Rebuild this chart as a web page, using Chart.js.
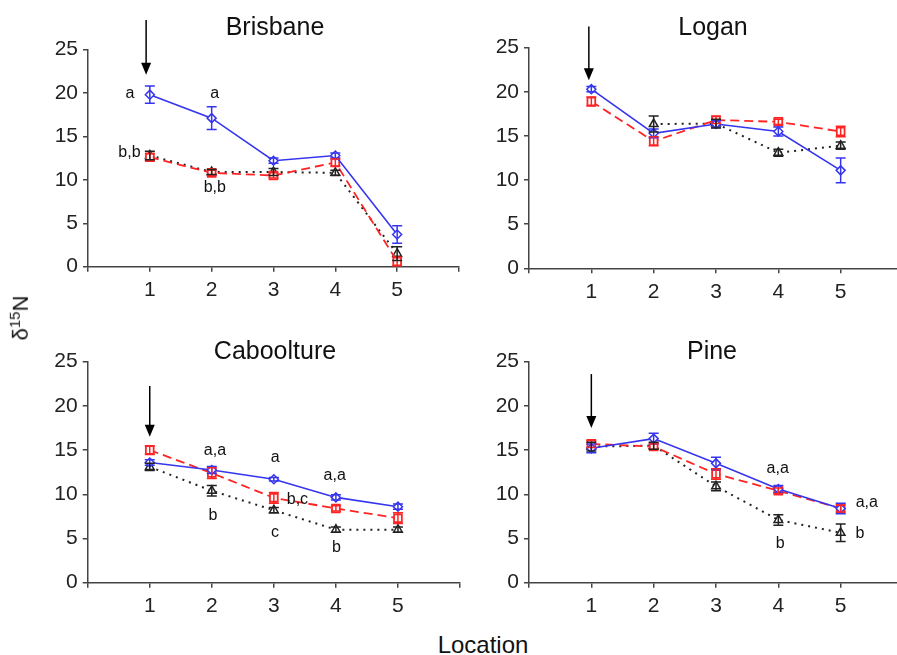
<!DOCTYPE html>
<html lang="en">
<head>
<meta charset="UTF-8">
<title>δ15N by location</title>
<script src="https://cdn.jsdelivr.net/npm/chart.js@4.4.1/dist/chart.umd.min.js"></script>
<style>
    body {
        margin: 0;
        width: 897px;
        height: 655px;
        overflow: hidden;
        position: relative;
        background: #fff;
        font-family: 'Liberation Sans', Arial, sans-serif;
        color: #111;
    }
    .panel {
        position: absolute;
        width: 470px;
        height: 330px;
    }
    .title {
        position: absolute;
        font-size: 25px;
        transform: translate(-50%, -50%);
        white-space: nowrap;
    }
    .ylabel {
        position: absolute;
        left: 20px;
        top: 318px;
        font-size: 22px;
        transform: translate(-50%, -50%) rotate(-90deg);
        white-space: nowrap;
    }
    .ylabel sup { font-size: 15px; }
    .xlabel {
        position: absolute;
        left: 483px;
        top: 645px;
        font-size: 24px;
        transform: translate(-50%, -50%);
        white-space: nowrap;
    }
</style>
</head>
<body>
<div class="panel" style="left:0;top:0"><canvas id="c0" width="470" height="330"></canvas></div>
<div class="panel" style="left:450px;top:0"><canvas id="c1" width="470" height="330"></canvas></div>
<div class="panel" style="left:0;top:300px"><canvas id="c2" width="470" height="330"></canvas></div>
<div class="panel" style="left:450px;top:300px"><canvas id="c3" width="470" height="330"></canvas></div>

<div class="title" style="left:275px;top:26px">Brisbane</div>
<div class="title" style="left:713px;top:26px">Logan</div>
<div class="title" style="left:275px;top:350px">Caboolture</div>
<div class="title" style="left:712px;top:350px">Pine</div>
<div class="ylabel">δ<sup>15</sup>N</div>
<div class="xlabel">Location</div>

<script>
// categories and ticks
const locations = ['1', '2', '3', '4', '5'];
const yTicks = [0, 5, 10, 15, 20, 25];

// Brisbane
const brisbaneBlue = [19.8, 17.1, 12.2, 12.8, 3.7];
const brisbaneBlueErr = [1.0, 1.3, 0.3, 0.3, 1.0];
const brisbaneRed = [12.6, 10.8, 10.5, 12.0, 0.6];
const brisbaneRedErr = [0.4, 0.3, 0.3, 0.4, 0.5];
const brisbaneBlack = [12.8, 10.9, 10.9, 10.8, 1.5];
const brisbaneBlackErr = [0.5, 0.3, 0.4, 0.3, 0.8];

// Logan
const loganBlue = [20.3, 15.3, 16.35, 15.5, 11.1];
const loganBlueErr = [0.3, 0.5, 0.4, 0.5, 1.4];
const loganRed = [18.9, 14.4, 16.8, 16.6, 15.5];
const loganRedErr = [0.5, 0.5, 0.4, 0.3, 0.6];
const loganBlack = [null, 16.35, 16.4, 13.1, 13.9];
const loganBlackErr = [0, 0.9, 0.5, 0.4, 0.4];

// Caboolture
const caboolBlue = [13.6, 12.75, 11.7, 9.65, 8.6];
const caboolBlueErr = [0.3, 0.4, 0.2, 0.3, 0.3];
const caboolRed = [15.0, 12.4, 9.6, 8.4, 7.3];
const caboolRedErr = [0.5, 0.6, 0.6, 0.3, 0.6];
const caboolBlack = [13.1, 10.4, 8.2, 6.0, 6.0];
const caboolBlackErr = [0.4, 0.6, 0.3, 0.3, 0.3];

// Pine
const pineBlue = [15.2, 16.3, 13.5, 10.6, 8.4];
const pineBlueErr = [0.5, 0.6, 0.7, 0.4, 0.6];
const pineRed = [15.7, 15.4, 12.3, 10.4, 8.4];
const pineRedErr = [0.4, 0.3, 0.6, 0.3, 0.4];
const pineBlack = [15.4, 15.5, 10.9, 7.1, 5.65];
const pineBlackErr = [0.5, 0.4, 0.5, 0.6, 1.0];

// letters over the points (data coordinates)
const brisbaneNotes = [
    { x: 0.68, y: 19.9, t: 'a' }, { x: 2.05, y: 19.9, t: 'a' },
    { x: 0.67, y: 13.1, t: 'b,b' }, { x: 2.05, y: 9.05, t: 'b,b' }
];
const loganNotes = [];
const caboolNotes = [
    { x: 2.05, y: 15.0, t: 'a,a' }, { x: 3.02, y: 14.1, t: 'a' },
    { x: 3.98, y: 12.1, t: 'a,a' }, { x: 2.02, y: 7.55, t: 'b' },
    { x: 3.38, y: 9.35, t: 'b,c' }, { x: 3.02, y: 5.7, t: 'c' },
    { x: 4.01, y: 4.0, t: 'b' }
];
const pineNotes = [
    { x: 3.99, y: 12.9, t: 'a,a' }, { x: 5.42, y: 9.05, t: 'a,a' },
    { x: 4.03, y: 4.4, t: 'b' }, { x: 5.31, y: 5.5, t: 'b' }
];

// arrows at location 1: [x, top, bottom]
const arrows = [[0.94, 28.4, 22.1], [0.96, 27.4, 21.3], [1.0, 22.25, 16.5], [1.0, 23.6, 17.5]];

// page layout: canvas origin and plot area (left, top, right, bottom)
const origins = [[0, 0], [450, 0], [0, 300], [450, 300]];
const plotBoxes = [[88, 49.5, 459, 266.7], [529, 47.7, 903, 268.3], [87.7, 361.7, 460, 582.7], [529, 361.7, 903, 582.7]];

const BLUE = '#3535f0', RED = '#ff2424', BLACK = '#222';
const FONT = "'Liberation Sans', Arial, sans-serif";
const Y_W = 60, X_H = 40, CW = 470, CH = 330;

const extras = {
    id: 'extras',
    afterDatasetsDraw(chart, args, opts) {
        const { ctx } = chart;
        const x = chart.scales.x, y = chart.scales.y;
        ctx.save();
        ctx.setLineDash([]);
        ctx.lineWidth = 1.5;
        // error bars
        opts.errors.forEach((errs, di) => {
            const ds = chart.data.datasets[di];
            ctx.strokeStyle = ds.borderColor;
            ds.data.forEach((p, j) => {
                if (p.y == null || !errs[j]) return;
                const px = x.getPixelForValue(p.x);
                const top = y.getPixelForValue(p.y + errs[j]);
                const bot = y.getPixelForValue(p.y - errs[j]);
                ctx.beginPath();
                ctx.moveTo(px, top); ctx.lineTo(px, bot);
                ctx.moveTo(px - 5, top); ctx.lineTo(px + 5, top);
                ctx.moveTo(px - 5, bot); ctx.lineTo(px + 5, bot);
                ctx.stroke();
            });
        });
        // arrow
        const a = opts.arrow;
        const ax = x.getPixelForValue(a[0]);
        const at = y.getPixelForValue(a[1]);
        const ab = y.getPixelForValue(a[2]);
        ctx.strokeStyle = '#000';
        ctx.fillStyle = '#000';
        ctx.lineWidth = 1.5;
        ctx.beginPath();
        ctx.moveTo(ax, at); ctx.lineTo(ax, ab - 10);
        ctx.stroke();
        ctx.beginPath();
        ctx.moveTo(ax - 5, ab - 12); ctx.lineTo(ax + 5, ab - 12); ctx.lineTo(ax, ab);
        ctx.closePath();
        ctx.fill();
        // letters
        ctx.font = '16px ' + FONT;
        ctx.fillStyle = '#111';
        ctx.textAlign = 'center';
        ctx.textBaseline = 'middle';
        opts.notes.forEach(n => ctx.fillText(n.t, x.getPixelForValue(n.x), y.getPixelForValue(n.y)));
        ctx.restore();
    }
};

function pts(vals) {
    return vals.map((v, i) => ({ x: i + 1, y: v }));
}

function makePanel(i, blue, red, black, errs, notes) {
    const o = origins[i], b = plotBoxes[i];
    new Chart(document.getElementById('c' + i), {
        type: 'line',
        data: {
            datasets: [
                {
                    data: pts(blue), borderColor: BLUE, borderWidth: 1.6,
                    pointStyle: 'rectRot', pointRadius: 4.5, pointBackgroundColor: '#fff',
                    pointBorderColor: BLUE, pointBorderWidth: 1.5
                },
                {
                    data: pts(red), borderColor: RED, borderWidth: 1.8, borderDash: [9, 5],
                    pointStyle: 'rect', pointRadius: 5.5, pointBackgroundColor: '#fff',
                    pointBorderColor: RED, pointBorderWidth: 1.8
                },
                {
                    data: pts(black), borderColor: BLACK, borderWidth: 2, borderDash: [2, 5],
                    pointStyle: 'triangle', pointRadius: 5, pointBackgroundColor: '#fff',
                    pointBorderColor: BLACK, pointBorderWidth: 1.5
                }
            ]
        },
        options: {
            responsive: false,
            animation: false,
            devicePixelRatio: 1,
            layout: {
                padding: {
                    left: b[0] - o[0] - Y_W,
                    top: b[1] - o[1],
                    right: CW - (b[2] - o[0]),
                    bottom: CH - X_H - (b[3] - o[1])
                }
            },
            plugins: {
                legend: { display: false },
                tooltip: { enabled: false },
                extras: { errors: errs, arrow: arrows[i], notes: notes }
            },
            scales: {
                x: {
                    type: 'linear', min: 0, max: 6,
                    afterFit: s => { s.height = X_H; },
                    border: { color: '#444', width: 1.5 },
                    grid: { drawOnChartArea: false, tickLength: 5, color: '#444', lineWidth: 1.5 },
                    ticks: {
                        stepSize: 1, padding: 6, color: '#222',
                        font: { family: FONT, size: 21 },
                        maxRotation: 0, autoSkip: false,
                        callback: v => (v >= 1 && v <= 5) ? locations[v - 1] : ''
                    }
                },
                y: {
                    min: 0, max: 25,
                    afterFit: s => { s.width = Y_W; },
                    afterBuildTicks: s => { s.ticks = yTicks.map(v => ({ value: v })); },
                    border: { color: '#444', width: 1.5 },
                    grid: { drawOnChartArea: false, tickLength: 5, color: '#444', lineWidth: 1.5 },
                    ticks: { padding: 5, color: '#222', font: { family: FONT, size: 21 } }
                }
            }
        },
        plugins: [extras]
    });
}

makePanel(0, brisbaneBlue, brisbaneRed, brisbaneBlack,
    [brisbaneBlueErr, brisbaneRedErr, brisbaneBlackErr], brisbaneNotes);
makePanel(1, loganBlue, loganRed, loganBlack,
    [loganBlueErr, loganRedErr, loganBlackErr], loganNotes);
makePanel(2, caboolBlue, caboolRed, caboolBlack,
    [caboolBlueErr, caboolRedErr, caboolBlackErr], caboolNotes);
makePanel(3, pineBlue, pineRed, pineBlack,
    [pineBlueErr, pineRedErr, pineBlackErr], pineNotes);
</script>
</body>
</html>
